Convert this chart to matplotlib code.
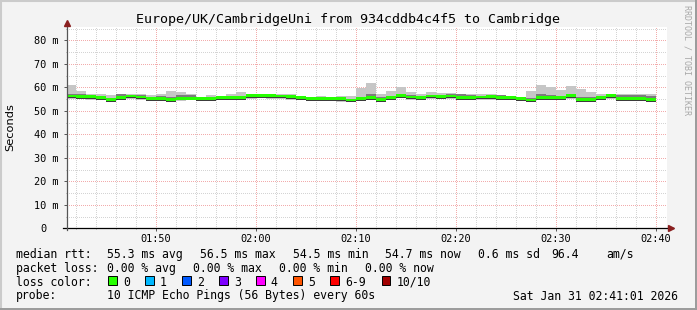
import matplotlib
matplotlib.use("Agg")
import matplotlib.pyplot as plt
from matplotlib.patches import Rectangle

# --- data (values in ms, minute bins from 01:41 to 02:40) ---
minutes = list(range(1, 60))  # minutes after 01:40, start of each bin

median = [56.2, 56.1, 56.0, 55.5, 54.6, 55.5, 56.2, 55.8, 55.0, 55.0,
          54.8, 55.3, 55.3, 55.0, 55.0, 55.5, 55.5, 55.7, 56.5, 56.5,
          56.3, 56.2, 55.9, 55.5, 55.0, 55.0, 55.0, 55.0, 54.5, 55.2,
          55.5, 54.8, 55.5, 56.5, 55.8, 55.5, 56.2, 56.0, 56.2, 55.5,
          55.4, 55.8, 55.9, 55.5, 55.7, 55.0, 54.5, 55.5, 55.5, 55.4,
          56.3, 54.8, 54.8, 55.5, 56.3, 55.2, 55.2, 55.2, 54.7]

smoke_hi = [61.0, 58.6, 57.0, 57.0, 56.6, 57.0, 57.3, 57.0, 56.6, 57.3,
            58.6, 58.0, 57.0, 56.0, 56.6, 56.2, 57.3, 58.0, 57.3, 57.0,
            56.8, 57.0, 57.0, 56.3, 56.0, 56.2, 56.0, 56.3, 56.2, 59.5,
            62.0, 57.0, 58.6, 60.3, 58.0, 57.3, 58.0, 57.5, 57.5, 57.3,
            57.3, 57.0, 57.0, 56.8, 56.3, 56.0, 58.6, 61.0, 60.3, 58.8,
            60.7, 59.3, 58.0, 57.0, 57.0, 57.3, 57.3, 57.3, 57.3]

smoke_mid = [57.0, 57.0, 56.6, 56.0, 55.6, 57.0, 56.8, 56.8, 55.8, 56.2,
             56.0, 56.8, 56.6, 55.6, 56.0, 56.2, 56.0, 56.4, 57.0, 57.0,
             56.8, 56.8, 56.6, 56.0, 55.6, 56.0, 55.6, 56.0, 55.2, 56.0,
             57.0, 55.8, 56.4, 57.2, 56.6, 56.2, 56.8, 56.6, 57.0, 57.0,
             56.8, 56.4, 56.6, 56.6, 56.3, 55.6, 55.6, 57.0, 56.6, 56.4,
             57.0, 56.0, 56.0, 56.4, 57.0, 56.8, 56.8, 56.6, 56.4]

smoke_lo = [55.0, 55.0, 54.8, 54.8, 54.0, 54.8, 55.2, 54.8, 54.4, 54.5,
            54.0, 54.3, 54.5, 54.4, 54.4, 54.7, 54.8, 54.6, 55.0, 55.3,
            55.2, 55.0, 54.5, 54.5, 54.2, 54.2, 54.0, 53.9, 53.6, 54.4,
            54.6, 54.2, 54.6, 55.3, 54.7, 54.6, 55.0, 54.9, 55.0, 54.5,
            54.4, 54.7, 54.8, 54.5, 54.6, 54.3, 53.8, 54.4, 54.5, 54.5,
            55.0, 54.2, 54.2, 54.6, 55.0, 54.5, 54.5, 54.4, 54.0]

x_ticks = [10, 20, 30, 40, 50, 60]
x_labels = ["01:50", "02:00", "02:10", "02:20", "02:30", "02:40"]
y_ticks = [0, 10, 20, 30, 40, 50, 60, 70, 80]
y_labels = ["0  ", "10 m", "20 m", "30 m", "40 m", "50 m", "60 m", "70 m", "80 m"]

loss_labels = ["0", "1", "2", "3", "4", "5", "6-9", "10/10"]
loss_colors = ["#26ff00", "#00b8ff", "#0059ff", "#7e00ff", "#ff00ff",
               "#ff5500", "#ff0000", "#a10000"]

title = "Europe/UK/CambridgeUni from 934cddb4c4f5 to Cambridge"

W, H = 697, 310
MONO = "DejaVu Sans Mono"


def fx(px):
    return px / W


def fy(py):
    return 1 - py / H


fig = plt.figure(figsize=(W / 100, H / 100), dpi=100, facecolor="#f3f3f3")

# frame shading like rrdtool
fig.patches.append(Rectangle((0, 0), 1, 1, transform=fig.transFigure,
                             fill=False, edgecolor="#cbcbcb", linewidth=2.2))
fig.patches.append(Rectangle((fx(695), 0), fx(2), 1, transform=fig.transFigure,
                             facecolor="#9c9c9c", edgecolor="none"))
fig.patches.append(Rectangle((0, 0), 1, fy(307.5), transform=fig.transFigure,
                             facecolor="#9c9c9c", edgecolor="none"))

left, right, top, bottom = 66.7, 667.0, 27.0, 228.3
ax = fig.add_axes([fx(left), fy(bottom), fx(right - left), fy(top) - fy(bottom)])
ax.set_facecolor("white")
ax.set_xlim(1.1, 61.13)
ax.set_ylim(0, (bottom - top) / 2.35)

# grid (dotted, like rrdtool)
ax.set_xticks(x_ticks)
ax.set_xticks(range(2, 62, 2), minor=True)
ax.set_yticks(y_ticks)
ax.set_yticks(range(5, 90, 10), minor=True)
ax.grid(which="minor", color="#d4d4d4", linewidth=0.72, linestyle=(0, (1, 1.5)),
        antialiased=False)
ax.grid(which="major", color="#f2acac", linewidth=0.72, linestyle=(0, (1, 1.5)),
        antialiased=False)
ax.set_axisbelow(True)

# smoke
hi_h = [h - l for h, l in zip(smoke_hi, smoke_lo)]
ax.bar(minutes, hi_h, bottom=smoke_lo, width=1, align="edge",
       color="#c6c6c6", linewidth=0, zorder=2)
mid_h = [m - md for m, md in zip(smoke_mid, median)]
ax.bar(minutes, mid_h, bottom=median, width=1, align="edge",
       color="#7c7c7c", linewidth=0, zorder=3)
ax.bar(minutes, [0.9] * len(minutes), bottom=[m - 0.9 for m in median],
       width=1, align="edge", color="#3c3c3c", linewidth=0, zorder=3)
# median, coloured by loss (0 loss everywhere)
ax.bar(minutes, [1.2] * len(minutes), bottom=[m - 0.5 for m in median],
       width=1, align="edge", color=loss_colors[0], linewidth=0, zorder=4)

# axes
for s in ["top", "right", "left", "bottom"]:
    ax.spines[s].set_visible(False)
ax.plot([-0.006, (673 - left) / (right - left)], [0, 0], color="black",
        linewidth=0.9, transform=ax.transAxes, clip_on=False, zorder=5)
ax.plot([0, 0], [-0.01, 1 + 4 / (bottom - top)], color="#555555",
        linewidth=0.9, transform=ax.transAxes, clip_on=False, zorder=5)
ax.plot([(671 - left) / (right - left)], [0], marker=">", markersize=5,
        color="#8a1f1f", transform=ax.transAxes, clip_on=False, zorder=6)
ax.plot([0], [1 + 4 / (bottom - top)], marker="^", markersize=5,
        color="#8a1f1f", transform=ax.transAxes, clip_on=False, zorder=6)

ax.set_xticklabels(x_labels, fontsize=7.4, family=MONO)
ax.set_yticklabels(y_labels, fontsize=7.4, family=MONO)
ax.tick_params(which="major", length=2, width=0.7, color="#555555", pad=2.3)
ax.tick_params(which="minor", length=1, width=0.7, color="#999999")
ax.tick_params(axis="y", pad=3.6)

# titles
fig.text(fx(348), fy(19), title, fontsize=9.6, family=MONO, ha="center", va="center")
fig.text(fx(10.7), fy(127), "Seconds", fontsize=8.2, family="DejaVu Sans",
         rotation=90, ha="center", va="center")
fig.text(fx(687.5), fy(60), "RRDTOOL / TOBI OETIKER", fontsize=6, family=MONO,
         rotation=270, ha="center", va="center", color="#a8a8a8")

# legend rows
fs = 8.3
rows = [
    (254.3, [(16, "median rtt:"), (107.3, "55.3 ms avg"), (200, "56.5 ms max"),
             (293.3, "54.5 ms min"), (385, "54.7 ms now"), (478.3, "0.6 ms sd"),
             (551, "96.4"), (606.7, "am/s")]),
    (268.3, [(16, "packet loss:"), (107.3, "0.00 % avg"), (193.3, "0.00 % max"),
             (279.3, "0.00 % min"), (365, "0.00 % now")]),
    (282.3, [(16, "loss color:")]),
    (296.0, [(16, "probe:"), (107.3, "10 ICMP Echo Pings (56 Bytes) every 60s"),
             (513.3, "Sat Jan 31 02:41:01 2026")]),
]
for y, items in rows:
    for x, s in items:
        fig.text(fx(x), fy(y), s, fontsize=fs, family=MONO, ha="left", va="center")

box_x = [108.3, 145.3, 182.3, 219.3, 256.3, 293.3, 330.3, 381.7]
for bx, lab, col in zip(box_x, loss_labels, loss_colors):
    fig.patches.append(Rectangle((fx(bx), fy(285.3)), fx(8.3), fy(275.5) - fy(285.3),
                                 transform=fig.transFigure, facecolor=col,
                                 edgecolor="black", linewidth=0.7))
    fig.text(fx(bx + 14.5), fy(282.3), lab, fontsize=fs, family=MONO,
             ha="left", va="center")

fig.savefig("out.png", dpi=100, facecolor=fig.get_facecolor())
